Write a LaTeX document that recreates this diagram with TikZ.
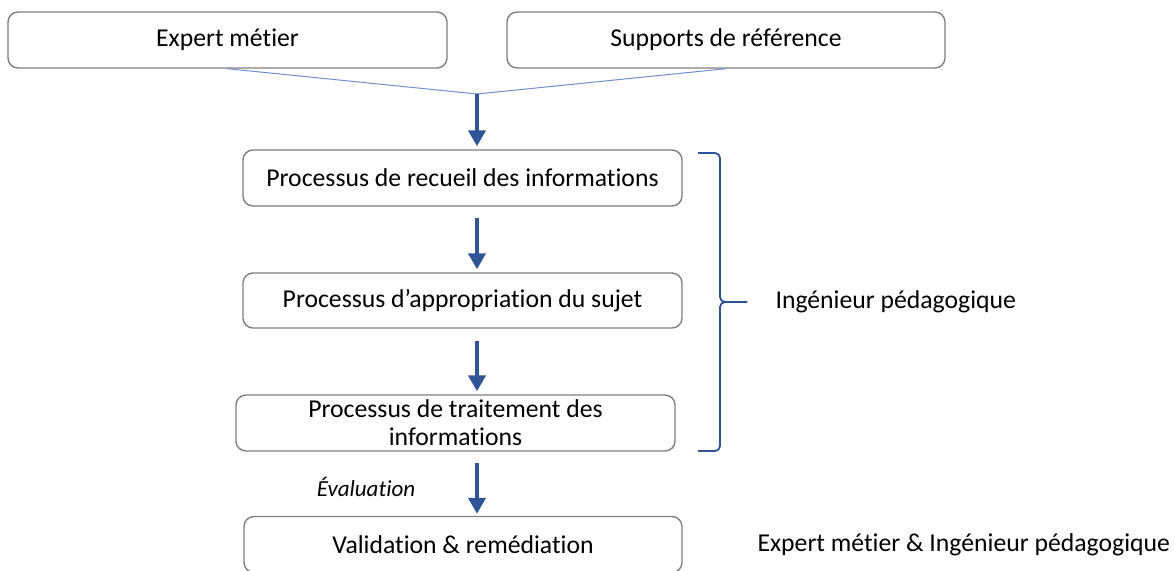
\documentclass[tikz,border=0pt]{standalone}
\usepackage{fontspec}
\setmainfont{Carlito}[RawFeature=-liga]
\usetikzlibrary{arrows.meta}

\definecolor{boxgray}{HTML}{7F7F7F}
\definecolor{feedblue}{HTML}{6F8FD0}
\definecolor{flowblue}{HTML}{2F5597}

\begin{document}
\begin{tikzpicture}[x=1pt,y=-1pt,
    every node/.style={font=\fontsize{25.7}{28}\selectfont},
    box/.style={draw=boxgray, line width=1.4pt, rounded corners=10pt,
      minimum width=439pt, minimum height=56pt, inner sep=0pt, align=center},
    feed/.style={draw=feedblue, line width=1pt},
    flow/.style={draw=flowblue, line width=4.5pt,
      -{Triangle[width=17pt,length=16pt]}},
    bracket/.style={draw=flowblue, line width=1.8pt, rounded corners=5pt}]
        \useasboundingbox (0,0) rectangle (1174,570);

        \node[box] (expert) at (227.5,40) {Expert métier};
        \node[box, minimum width=438pt] (supports) at (726,40) {Supports de référence};
        \coordinate (j) at (477,94);

        \node[box] (recueil) at (462.5,178) {Processus de recueil des informations};
        \node[box, minimum height=55pt] (approp) at (462.5,300.5) {Processus d’appropriation du sujet};
        \node[box] (traitement) at (455.5,423) {Processus de traitement des\\informations};
        \node[box, minimum width=438pt] (valid) at (463,544.5) {Validation \& remédiation};

        \draw[feed] (expert.south) -- (j);
        \draw[feed] (supports.south) -- (j);

        \draw[flow] (j) -- ([yshift=3pt]recueil.north -| j);
        \draw[flow] ([yshift=-11pt]recueil.south -| j) -- ([yshift=3pt]approp.north -| j);
        \draw[flow] ([yshift=-12pt]approp.south -| j) -- ([yshift=3pt]traitement.north -| j);
        \draw[flow] ([yshift=-11pt]traitement.south -| j) -- ([yshift=2pt]valid.north -| j);

        \node[font=\fontsize{23}{26}\selectfont\itshape] (eval) at (366,487) {Évaluation};

        \draw[bracket] (698,153) -- (720,153) -- (720,302) -- (747,302);
        \draw[bracket] (698,451) -- (720,451) -- (720,302) -- (747,302);
        \node[anchor=west] (ing) at (772,302) {Ingénieur pédagogique};
        \node[anchor=west] (both) at (754,545) {Expert métier \& Ingénieur pédagogique};
      \end{tikzpicture}
\end{document}
